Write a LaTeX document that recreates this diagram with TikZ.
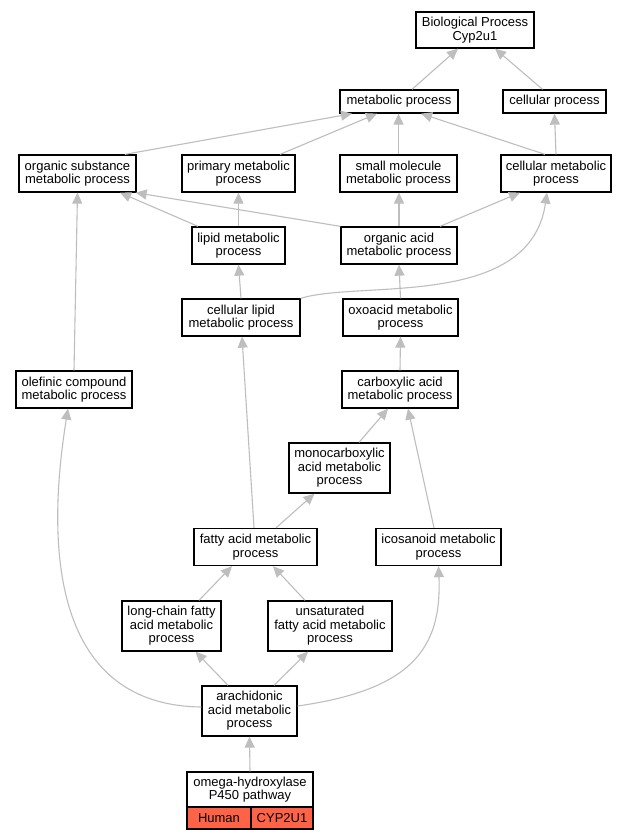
\documentclass[tikz,border=0pt]{standalone}
\usepackage{fontspec}
\setmainfont{Liberation Sans}
\usetikzlibrary{arrows.meta}
\definecolor{edgegray}{RGB}{190,190,190}
\definecolor{tomatored}{RGB}{255,99,71}
\begin{document}
\begin{tikzpicture}[x=1pt,y=-1pt,
  box/.style={draw=black, line width=1.3pt, fill=white, inner sep=0pt, align=center,
    font=\fontsize{13}{13.5}\selectfont},
  edge/.style={draw=edgegray, line width=1.1pt, -{Triangle[length=11pt,width=10pt,fill=edgegray]}}]
\useasboundingbox[fill=white] (0,0) rectangle (628,840);
% nodes
\node[box, minimum width=118, minimum height=36] (bp) at (475,30) {Biological Process\\Cyp2u1};
\node[box, minimum width=118, minimum height=23] (mp) at (399,101.5) {metabolic process};
\node[box, minimum width=103, minimum height=23] (cp) at (554.5,101.5) {cellular process};
\node[box, minimum width=117, minimum height=37] (os) at (77.5,173.5) {organic substance\\metabolic process};
\node[box, minimum width=113, minimum height=37] (pm) at (238.5,173.5) {primary metabolic\\process};
\node[box, minimum width=117, minimum height=37] (sm) at (398.5,173.5) {small molecule\\metabolic process};
\node[box, minimum width=110, minimum height=37] (cm) at (556,173.5) {cellular metabolic\\process};
\node[box, minimum width=93, minimum height=37] (lm) at (238.5,245.5) {lipid metabolic\\process};
\node[box, minimum width=116, minimum height=37] (oa) at (399,245.5) {organic acid\\metabolic process};
\node[box, minimum width=118, minimum height=37] (cl) at (241,317.5) {cellular lipid\\metabolic process};
\node[box, minimum width=115, minimum height=37] (ox) at (400.5,317.5) {oxoacid metabolic\\process};
\node[box, minimum width=116, minimum height=37] (ol) at (74,389.5) {olefinic compound\\metabolic process};
\node[box, minimum width=116, minimum height=37] (ca) at (400,389.5) {carboxylic acid\\metabolic process};
\node[box, minimum width=101, minimum height=50] (mc) at (339.5,468) {monocarboxylic\\acid metabolic\\process};
\node[box, minimum width=123, minimum height=37] (fa) at (255.5,547) {fatty acid metabolic\\process};
\node[box, minimum width=125, minimum height=37] (ic) at (438.5,547) {icosanoid metabolic\\process};
\node[box, minimum width=99, minimum height=50] (lc) at (171.5,626) {long-chain fatty\\acid metabolic\\process};
\node[box, minimum width=124, minimum height=50] (un) at (330,626) {unsaturated\\fatty acid metabolic\\process};
\node[box, minimum width=95, minimum height=50] (ar) at (249.5,711) {arachidonic\\acid metabolic\\process};
\node[box, minimum width=126, minimum height=35] (om) at (250,789.5) {omega-hydroxylase\\P450 pathway};
\node[box, fill=tomatored, minimum width=64, minimum height=22] (hu) at (219,818) {Human};
\node[box, fill=tomatored, minimum width=62, minimum height=22] (cy) at (282,818) {CYP2U1};
% edges
\draw[edge] ([xshift=13pt]mp.north) -- ([xshift=-17pt]bp.south);
\draw[edge] ([xshift=-12pt]cp.north) -- ([xshift=20pt]bp.south);
\draw[edge] ([xshift=47.5pt]os.north) -- ([xshift=-47pt]mp.south);
\draw[edge] ([xshift=41.5pt]pm.north) -- ([xshift=-22pt]mp.south);
\draw[edge] (sm.north) -- (sm.north |- mp.south);
\draw[edge] ([xshift=-11pt]cm.north) -- ([xshift=22pt]mp.south);
\draw[edge] (cm.north) -- (cp.south);
\draw[edge] ([xshift=-40.5pt]lm.north) -- ([xshift=42.5pt]os.south);
\draw[edge] (oa.north west) -- ([xshift=-1pt]os.south east);
\draw[edge] (lm.north) -- (pm.south);
\draw[edge] (oa.north) -- (oa.north |- sm.south);
\draw[edge] ([xshift=41pt]oa.north) -- ([xshift=-36pt]cm.south);
\draw[edge] (cl.north east) .. controls (360,280) and (530,310) .. ([xshift=-9pt]cm.south);
\draw[edge] (cl.north) -- (lm.south);
\draw[edge] (ox.north) -- (oa.south);
\draw[edge] (ca.north) -- (ox.south);
\draw[edge] (ol.north) -- (os.south);
\draw[edge] ([xshift=19.5pt]mc.north) -- ([xshift=-12pt]ca.south);
\draw[edge] ([xshift=-4.5pt]ic.north) -- ([xshift=8pt]ca.south);
\draw[edge] ([xshift=-1.5pt]fa.north) -- ([xshift=1pt]cl.south);
\draw[edge] ([xshift=20.5pt]fa.north) -- ([xshift=-25pt]mc.south);
\draw[edge] ([xshift=27.5pt]lc.north) -- ([xshift=-23.5pt]fa.south);
\draw[edge] ([xshift=-25pt]un.north) -- ([xshift=17.5pt]fa.south);
\draw[edge] ([xshift=-21.5pt]ar.north) -- ([xshift=24pt]lc.south);
\draw[edge] ([xshift=24.5pt]ar.north) -- ([xshift=-22pt]un.south);
\draw[edge] ([yshift=4pt]ar.west) .. controls (40,705) and (50,520) .. ([xshift=-6pt]ol.south);
\draw[edge] ([yshift=5pt]ar.east) .. controls (410,690) and (442,650) .. (ic.south);
\draw[edge] (om.north) -- (ar.south);
\end{tikzpicture}
\end{document}
